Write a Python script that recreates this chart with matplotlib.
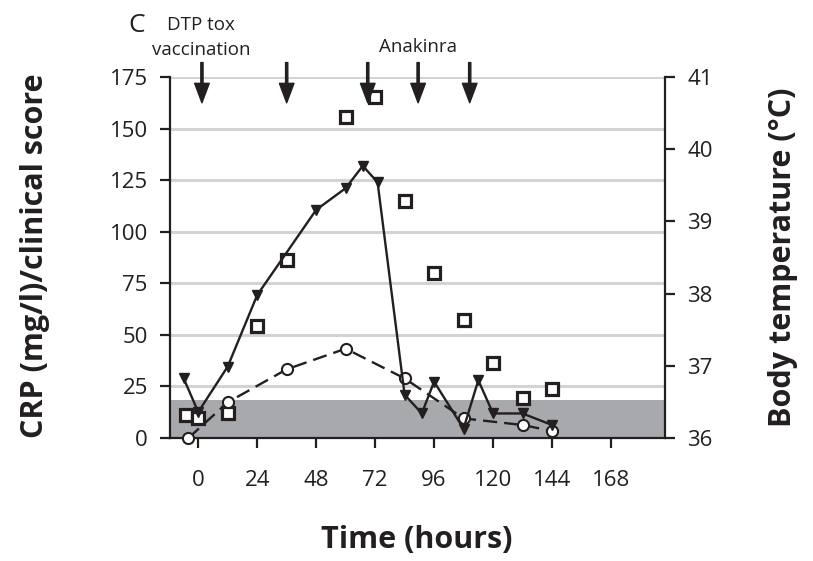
import matplotlib.pyplot as plt
import numpy as np

plt.rcParams['font.family'] = ['Open Sans', 'DejaVu Sans']

# Daten
temp_t = [-6, 0, 12, 24, 48, 60, 67, 73, 84, 91, 96, 108, 114, 120, 132, 144]
temp_c = [36.83, 36.36, 36.99, 37.98, 39.16, 39.46, 39.77, 39.54,
          36.60, 36.34, 36.78, 36.13, 36.80, 36.34, 36.34, 36.18]

crp_t = [-5, 0, 12, 24, 36, 60, 72, 84, 96, 108, 120, 132, 144]
crp_v = [11.1, 9.5, 12, 54.3, 86.3, 155.8, 165.5, 114.9, 79.8, 57.2, 36.2, 19.2, 23.6]

score_t = [-4, 12, 36, 60, 84, 108, 132, 144]
score_v = [0, 17.3, 33.3, 43.3, 28.9, 9.5, 6.3, 3.4]

arrow_t = [1.5, 36, 69, 89.5, 110.5]
normal_crp = 18.4  # graues Band

x_ticks = [0, 24, 48, 72, 96, 120, 144, 168]
left_ticks = [0, 25, 50, 75, 100, 125, 150, 175]
right_ticks = [36, 37, 38, 39, 40, 41]

ink = '#231f20'
W, H = 813, 561

fig = plt.figure(figsize=(W / 100, H / 100), dpi=100)
ax = fig.add_axes([170 / W, 1 - 438 / H, (665 - 170) / W, (438 - 77) / H])
ax2 = ax.twinx()

ax.set_xlim(-11.5, 190)
ax.set_ylim(0, 175)
ax2.set_ylim(36, 41)

# Gitter und Band
for g in left_ticks[1:]:
    ax.axhline(g, color='#d1d3d4', linewidth=2.2, zorder=0)
ax.axhspan(0, normal_crp, color='#a7a9ac', linewidth=0, zorder=0.5)

# CRP (Quadrate)
ax.plot(crp_t, crp_v, linestyle='none', marker='s', markersize=8,
        markerfacecolor='white', markeredgecolor=ink, markeredgewidth=2.3,
        zorder=3, clip_on=False)

# klinischer Score (gestrichelt, Kreise)
ax.plot(score_t, score_v, color=ink, linewidth=1.7, dashes=(6, 3),
        marker='o', markersize=8, markerfacecolor='white',
        markeredgecolor=ink, markeredgewidth=1.5, zorder=4, clip_on=False)

# Temperatur (Dreiecke)
ax2.plot(temp_t, temp_c, color=ink, linewidth=1.7, marker='v',
         markersize=7, markerfacecolor=ink, markeredgecolor=ink,
         zorder=3, clip_on=False)

# Pfeile
for t in arrow_t:
    ax.annotate('', xy=(t, 162.5), xytext=(t, 182), annotation_clip=False,
                arrowprops=dict(facecolor=ink, edgecolor=ink, width=1.6,
                                headwidth=10.5, headlength=14, shrink=0))

# Achsen
for a in (ax, ax2):
    a.spines['top'].set_visible(False)
    for s in ('left', 'right', 'bottom'):
        a.spines[s].set_linewidth(1.6)
        a.spines[s].set_color(ink)
ax.spines['right'].set_visible(False)
ax2.spines['left'].set_visible(False)
ax2.spines['bottom'].set_visible(False)

ax.set_xticks(x_ticks)
ax.set_yticks(left_ticks)
ax2.set_yticks(right_ticks)
ax.tick_params(axis='both', direction='out', length=7, width=1.6,
               color=ink, labelcolor=ink, labelsize=16, pad=9)
ax.tick_params(axis='x', pad=16)
ax2.tick_params(axis='y', direction='out', length=7, width=1.6,
                color=ink, labelcolor=ink, labelsize=16, pad=9)

# Achsentitel
fig.text(417 / W, 1 - 540 / H, 'Time (hours)', fontsize=22, fontweight='bold',
         color=ink, ha='center', va='center')
fig.text(35 / W, 1 - 256 / H, 'CRP (mg/l)/clinical score', fontsize=22,
         fontweight='bold', color=ink, ha='center', va='center', rotation=90)
fig.text(783 / W, 1 - 257 / H, 'Body temperature (°C)', fontsize=22,
         fontweight='bold', color=ink, ha='center', va='center', rotation=90)

# Beschriftungen oben
fig.text(137 / W, 1 - 25 / H, 'C', fontsize=19, color=ink, ha='center', va='center')
fig.text(201 / W, 1 - 25 / H, 'DTP tox', fontsize=13.5, color=ink, ha='center', va='center')
fig.text(201 / W, 1 - 50 / H, 'vaccination', fontsize=13.5, color=ink, ha='center', va='center')
fig.text(418 / W, 1 - 47 / H, 'Anakinra', fontsize=13.5, color=ink, ha='center', va='center')

fig.savefig('out.png', dpi=100)
